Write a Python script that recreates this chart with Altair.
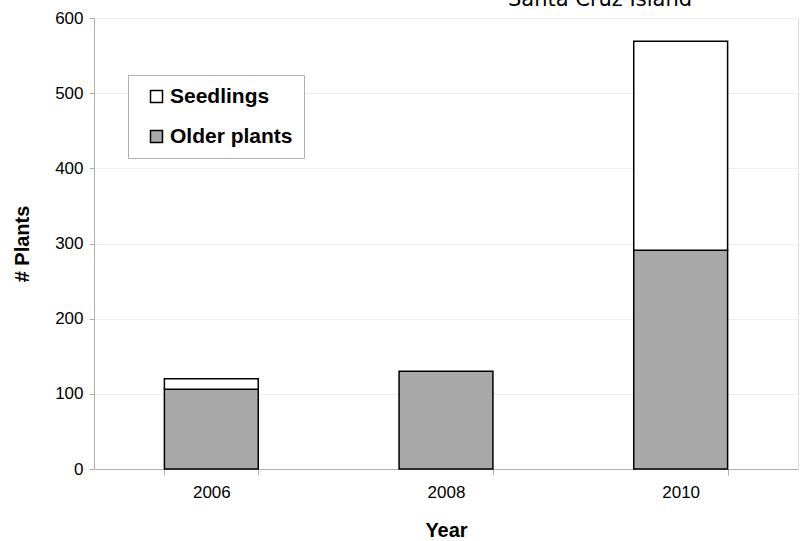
import altair as alt
import pandas as pd

years = ["2006", "2008", "2010"]
older = [106, 130, 291]
seedlings = [14, 0, 278]
series = ["Seedlings", "Older plants"]
y_ticks = [0, 100, 200, 300, 400, 500, 600]

rows = []
for i, yr in enumerate(years):
    rows.append({"Year": yr, "Type": "Older plants", "Count": older[i], "ord": 0})
    if seedlings[i] > 0:
        rows.append({"Year": yr, "Type": "Seedlings", "Count": seedlings[i], "ord": 1})
df = pd.DataFrame(rows)

bars = alt.Chart(df).mark_bar(stroke="black", strokeWidth=1.5).encode(
    x=alt.X("Year:N", sort=years,
            scale=alt.Scale(paddingInner=0.6, paddingOuter=0.3),
            axis=alt.Axis(title="Year", labelAngle=0, tickBand="extent",
                          labelFontSize=17, labelFont="Liberation Sans", labelColor="black",
                          labelPadding=9,
                          titleFontSize=20, titleFont="Liberation Sans", titleFontWeight="bold",
                          titlePadding=20, titleColor="black",
                          domainColor="#b0b0b0", tickColor="#b0b0b0", tickSize=6, grid=False)),
    y=alt.Y("Count:Q", stack="zero",
            scale=alt.Scale(domain=[0, 600], nice=False),
            axis=alt.Axis(title="# Plants", values=y_ticks,
                          labelFontSize=17, labelFont="Liberation Sans", labelColor="black",
                          labelPadding=6,
                          titleFontSize=20, titleFont="Liberation Sans", titleFontWeight="bold",
                          titlePadding=22, titleColor="black",
                          domainColor="#b0b0b0", tickColor="#b0b0b0", tickSize=5,
                          grid=True, gridColor="#eeeeee")),
    color=alt.Color("Type:N",
                    scale=alt.Scale(domain=series, range=["white", "#a9a9a9"]),
                    legend=alt.Legend(title=None, orient="none", legendX=34, legendY=57,
                                      symbolType="square", symbolSize=144,
                                      symbolStrokeColor="black", symbolStrokeWidth=1.5,
                                      labelFontSize=21, labelFont="Liberation Sans",
                                      labelFontWeight="bold", labelColor="black",
                                      labelOffset=3, rowPadding=18, padding=11,
                                      symbolOffset=7,
                                      fillColor="white", strokeColor="#b0b0b0")),
    order=alt.Order("ord:Q"),
)

title = alt.Chart(pd.DataFrame({"t": ["Santa Cruz Island"]})).mark_text(
    fontSize=21, font="DejaVu Sans", color="black", align="center", baseline="alphabetic"
).encode(text="t:N", x=alt.value(506), y=alt.value(-12))

chart = alt.layer(bars, title).properties(
    width=704, height=451,
    autosize=alt.AutoSizeParams(type="none"),
    padding={"left": 94, "top": 18, "right": 6, "bottom": 72},
).configure_view(stroke="#b0b0b0", strokeWidth=1).configure(background="white")

chart.save("out.html", embed_options={"renderer": "svg", "actions": False})
